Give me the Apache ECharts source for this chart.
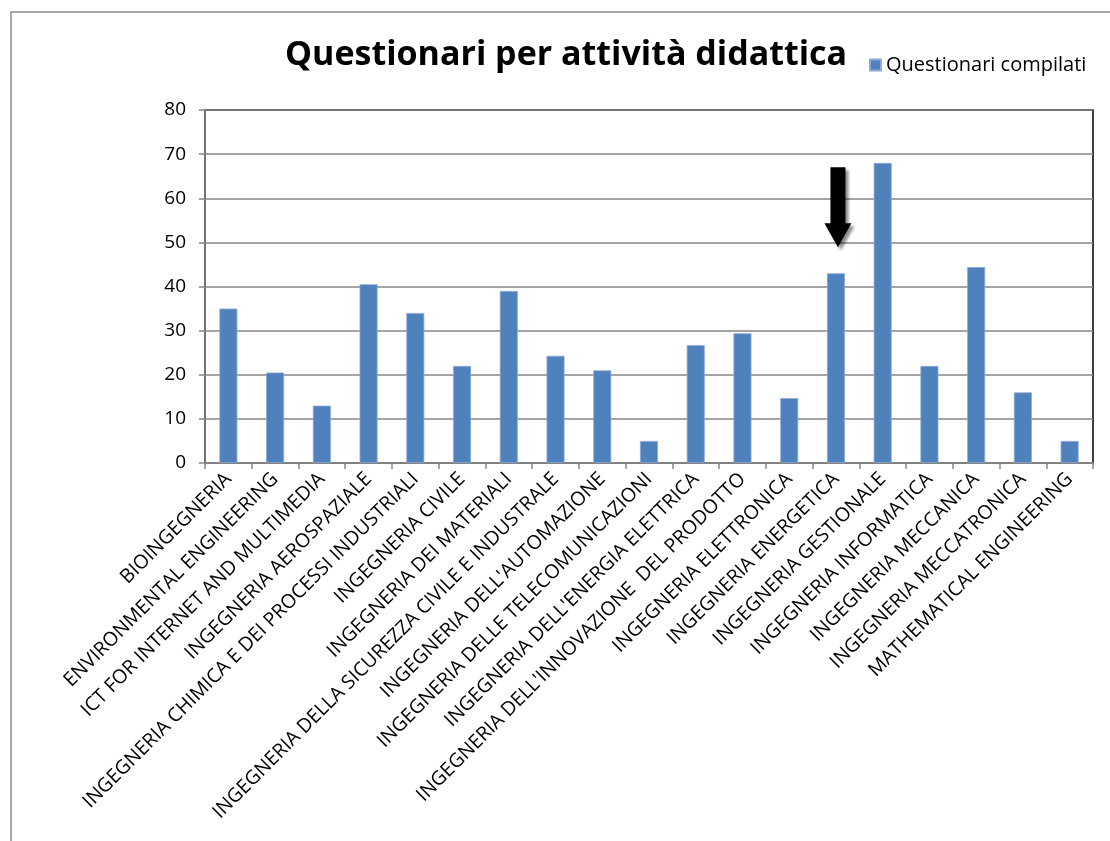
<!DOCTYPE html>
<html>
<head>
<meta charset="utf-8">
<style>
  html, body { margin: 0; padding: 0; background: #ffffff; }
  #chart { width: 1110px; height: 841px; }
</style>
<script src="https://cdn.jsdelivr.net/npm/echarts@6/dist/echarts.min.js"></script>
</head>
<body>
<div id="chart"></div>
<script>
// Corsi di studio (categorie) e numero di questionari compilati
const categories = [
  "BIOINGEGNERIA",
  "ENVIRONMENTAL ENGINEERING",
  "ICT FOR INTERNET AND MULTIMEDIA",
  "INGEGNERIA AEROSPAZIALE",
  "INGEGNERIA CHIMICA E DEI PROCESSI INDUSTRIALI",
  "INGEGNERIA CIVILE",
  "INGEGNERIA DEI MATERIALI",
  "INGEGNERIA DELLA SICUREZZA CIVILE E INDUSTRALE",
  "INGEGNERIA DELL'AUTOMAZIONE",
  "INGEGNERIA DELLE TELECOMUNICAZIONI",
  "INGEGNERIA DELL'ENERGIA ELETTRICA",
  "INGEGNERIA DELL'INNOVAZIONE  DEL PRODOTTO",
  "INGEGNERIA ELETTRONICA",
  "INGEGNERIA ENERGETICA",
  "INGEGNERIA GESTIONALE",
  "INGEGNERIA INFORMATICA",
  "INGEGNERIA MECCANICA",
  "INGEGNERIA MECCATRONICA",
  "MATHEMATICAL ENGINEERING"
];
const questionariCompilati = [35, 20.5, 13, 40.5, 34, 22, 39, 24.3, 21, 5, 26.7, 29.4, 14.7, 43, 68, 22, 44.4, 16, 5];
const seriesName = "Questionari compilati";
const chartTitle = "Questionari per attività didattica";
const yTicks = { min: 0, max: 80, interval: 10 };
// Corso evidenziato dalla freccia
const highlighted = "INGEGNERIA ENERGETICA";

const font = "'Open Sans', 'Noto Sans', sans-serif";
const chart = echarts.init(document.getElementById('chart'), null, { renderer: 'canvas' });

const hlIndex = categories.indexOf(highlighted);

chart.setOption({
  backgroundColor: '#ffffff',
  animation: false,
  title: {
    text: chartTitle,
    left: 280,
    top: 33,
    textStyle: { fontFamily: font, fontWeight: 'bold', fontSize: 34, color: '#000000' }
  },
  legend: {
    data: [seriesName],
    left: 864,
    top: 50,
    icon: 'rect',
    itemWidth: 11,
    itemHeight: 11,
    itemGap: 6,
    textStyle: { fontFamily: font, fontSize: 20, color: '#000000' }
  },
  grid: {
    left: 205, right: 17, top: 110, bottom: 378,
    show: true,
    borderColor: '#000000',
    borderWidth: 1.5,
    backgroundColor: 'transparent'
  },
  graphic: [{
    type: 'rect',
    shape: { x: 11, y: 12, width: 1200, height: 900 },
    style: { fill: 'none', stroke: '#8c8c8c', lineWidth: 1.5 },
    silent: true,
    z: -1
  }],
  xAxis: {
    type: 'category',
    data: categories,
    axisLine: { lineStyle: { color: '#868686', width: 1.5 } },
    axisTick: { show: true, alignWithLabel: false, length: 6, lineStyle: { color: '#868686', width: 1.5 } },
    axisLabel: {
      interval: 0,
      rotate: 45,
      margin: 13,
      fontFamily: font,
      fontSize: 19.5,
      color: '#000000'
    },
    splitLine: { show: false }
  },
  yAxis: {
    type: 'value',
    min: yTicks.min,
    max: yTicks.max,
    interval: yTicks.interval,
    axisLine: { show: true, lineStyle: { color: '#868686', width: 1.5 } },
    axisTick: { show: true, length: 6, lineStyle: { color: '#868686', width: 1.5 } },
    axisLabel: { fontFamily: font, fontSize: 19, color: '#000000', margin: 19 },
    splitLine: { show: true, lineStyle: { color: '#868686', width: 1.5 } }
  },
  series: [{
    name: seriesName,
    type: 'bar',
    data: questionariCompilati,
    barWidth: 18,
    itemStyle: { color: '#4F81BD', borderColor: '#8eaad6', borderWidth: 0.8 },
    markPoint: {
      silent: true,
      symbol: 'path://M6,0 L21,0 L21,56 L27,56 L13.5,80 L0,56 L6,56 Z',
      symbolSize: [27, 80],
      symbolKeepAspect: false,
      symbolOffset: [2, -66],
      label: { show: false },
      itemStyle: {
        color: '#000000',
        shadowColor: 'rgba(0,0,0,0.45)',
        shadowBlur: 3,
        shadowOffsetX: 3,
        shadowOffsetY: 3
      },
      data: [{ coord: [hlIndex, questionariCompilati[hlIndex]] }]
    }
  }]
});
</script>
</body>
</html>
